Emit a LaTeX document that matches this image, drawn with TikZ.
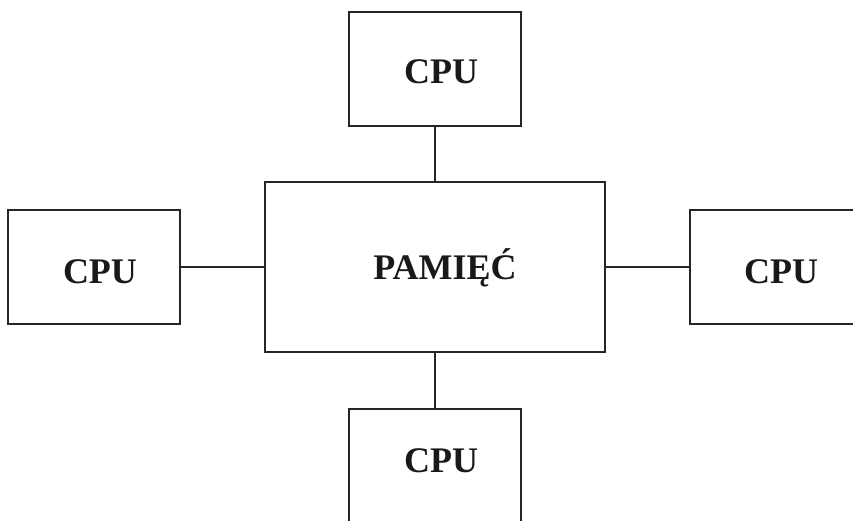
\documentclass[tikz,border=0pt]{standalone}
\usepackage{fontspec}
\setmainfont{Liberation Serif}
\begin{document}
\begin{tikzpicture}[x=1pt,y=-1pt,
  box/.style={draw=black!85,line width=1.6pt,rectangle,inner sep=0pt},
  cpubox/.style={box,minimum width=172pt,minimum height=114pt},
  lbl/.style={font=\fontsize{36}{40}\selectfont\bfseries,text=black!90},
  conn/.style={draw=black!85,line width=1.6pt}]
\useasboundingbox (0,0) rectangle (853,521);
\clip (0,0) rectangle (853,521);
\fill[white] (0,0) rectangle (853,521);
\node[box,minimum width=340pt,minimum height=170pt,
  label={[lbl,xshift=10pt,yshift=-1pt]center:PAMIĘĆ}] (mem) at (435,267) {};
\node[cpubox,label={[lbl,xshift=6pt,yshift=-3pt]center:CPU}] (top) at (435,69) {};
\node[cpubox,label={[lbl,xshift=6pt,yshift=-5pt]center:CPU}] (left) at (94,267) {};
\node[cpubox,minimum width=200pt,label={[lbl,xshift=-9pt,yshift=-5pt]center:CPU}] (right) at (790,267) {};
\node[cpubox,minimum height=130pt,label={[lbl,xshift=6pt,yshift=13pt]center:CPU}] (bottom) at (435,474) {};
\draw[conn] (top.south) -- (mem.north);
\draw[conn] (left.east) -- (mem.west);
\draw[conn] (mem.east) -- (right.west);
\draw[conn] (mem.south) -- (bottom.north);
\end{tikzpicture}
\end{document}
